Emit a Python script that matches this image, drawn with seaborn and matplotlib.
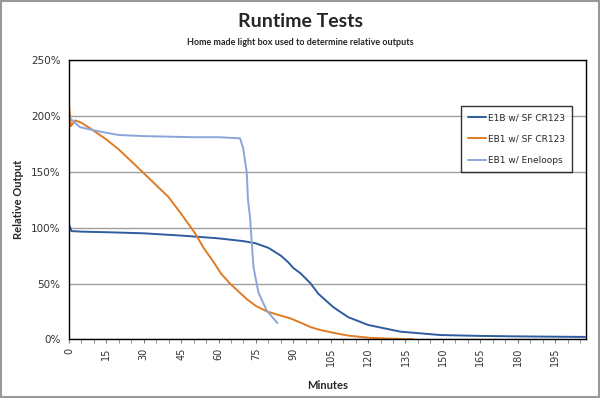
import matplotlib
matplotlib.use("Agg")
import matplotlib.pyplot as plt
from matplotlib.patches import Rectangle
from matplotlib.ticker import FuncFormatter, MultipleLocator
import pandas as pd
import seaborn as sns

# values (minutes, relative output in %)
e1b_min = [0, 1, 5, 15, 30, 45, 60, 70, 75, 80, 85, 88, 90, 93, 97, 100,
           106, 112, 120, 133, 149, 165, 180, 195, 207]
e1b_val = [103, 97, 96.5, 96, 95, 93, 90.5, 88, 86, 82, 75, 69, 64, 59, 50, 41,
           29, 20, 13, 7, 4, 3.2, 2.8, 2.5, 2.3]

eb1_min = [0, 0.8, 2.5, 5, 8.4, 10.4, 15, 20, 28.5, 35, 39.7, 44.5, 50.6, 54,
           57.8, 61, 64.6, 68, 71.4, 75, 79.5, 84, 88.7, 93, 97, 100, 106, 112,
           120, 128, 138]
eb1_val = [209, 191, 196, 194, 189, 186, 179, 170, 152, 138, 128, 114, 95, 82,
           70, 59, 50, 43, 36, 30, 25, 22, 19, 15, 11, 9, 6, 3.5,
           1.6, 0.8, 0.3]

ene_min = [0, 0, 0.4, 4.4, 12.4, 20, 30, 50, 60, 68.6, 69.8, 70.6, 71.3, 71.8,
           72.6, 74, 76, 79.3, 83.6]
ene_val = [0, 200, 198, 190, 186, 183, 182, 181, 181, 180, 172, 160, 150, 125,
           110, 65, 42, 26, 14.7]

series = ["E1B w/ SF CR123", "EB1 w/ SF CR123", "EB1 w/ Eneloops"]
colors = ["#2E5C9E", "#E07B24", "#8AA6D8"]

frames = []
for name, xs, ys in zip(series, [e1b_min, eb1_min, ene_min],
                        [e1b_val, eb1_val, ene_val]):
    frames.append(pd.DataFrame({"Minutes": xs, "Output": ys, "Series": name}))
df = pd.concat(frames, ignore_index=True)

sns.set_style("white")
plt.rcParams["font.family"] = ["DejaVu Sans"]

fig = plt.figure(figsize=(6.0, 3.98), dpi=100)
ax = fig.add_axes([0.115, 0.147, 0.862, 0.702])

sns.lineplot(data=df, x="Minutes", y="Output", hue="Series",
             hue_order=series, palette=colors, estimator=None, sort=False,
             linewidth=1.4, ax=ax)

ax.set_xlim(0, 207.5)
ax.set_ylim(0, 250)
ax.yaxis.set_major_locator(MultipleLocator(50))
ax.yaxis.set_major_formatter(FuncFormatter(lambda v, p: f"{v:.0f}%"))
ax.xaxis.set_major_locator(MultipleLocator(15))
ax.xaxis.set_minor_locator(MultipleLocator(5))
ax.grid(axis="y", color="#A0A0A0", linewidth=1)
ax.set_axisbelow(True)
for s in ax.spines.values():
    s.set_color("black")
    s.set_linewidth(1)
ax.tick_params(axis="x", which="both", direction="out", length=3,
               color="#808080", bottom=True, labelsize=7, labelrotation=90,
               pad=3)
ax.tick_params(axis="y", length=0, labelsize=7.5, pad=6)
for lab in ax.get_xticklabels():
    lab.set_color("#333333")
for lab in ax.get_yticklabels():
    lab.set_color("#333333")

ax.set_xlabel("Minutes", fontsize=8, fontweight="bold", family="Lato",
              labelpad=10)
ax.set_ylabel("Relative Output", fontsize=8, fontweight="bold", family="Lato",
              labelpad=5)

leg = ax.legend(loc="upper left", bbox_to_anchor=(0.758, 0.835),
                frameon=True, fancybox=False, fontsize=6.5, handlelength=2.0,
                labelspacing=1.35, borderpad=0.8, handletextpad=0.2,
                borderaxespad=0)
leg.get_frame().set_edgecolor("black")
leg.get_frame().set_linewidth(1)
for line in leg.get_lines():
    line.set_linewidth(1.4)

fig.text(0.5, 0.945, "Runtime Tests", ha="center", va="center",
         fontsize=14, fontweight="bold", family="Lato")
fig.text(0.5, 0.893, "Home made light box used to determine relative outputs",
         ha="center", va="center", fontsize=6.5, fontweight="bold",
         family="Lato")

fig.patches.append(Rectangle((0.002, 0.003), 0.996, 0.994,
                             transform=fig.transFigure, fill=False,
                             edgecolor="#999999", linewidth=1.5))

fig.savefig("out.png", dpi=100)
